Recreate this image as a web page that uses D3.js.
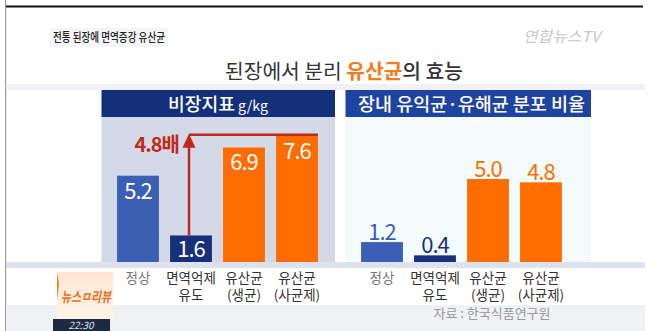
<!DOCTYPE html>
<html>
<head>
<meta charset="utf-8">
<script src="https://cdn.jsdelivr.net/npm/d3@7"></script>
<style>
  body { margin: 0; background: #fff; }
  svg { display: block; font-family: "Noto Sans CJK KR", "Noto Sans", sans-serif; }
</style>
</head>
<body>
<div class="chart"></div>
<script>
// categories (two-line labels) and values for the two panels
const categories = ['정상', '면역억제\n유도', '유산균\n(생균)', '유산균\n(사균제)'];
const spleenValues = [5.2, 1.6, 6.9, 7.6];   // 비장지표 g/kg
const gutValues = [1.2, 0.4, 5.0, 4.8];      // 장내 유익균·유해균 분포 비율
const ratioLabel = '4.8배';

const width = 657, height = 331;
const baseY = 262;
const barColors = ['#3a5fb4', '#17307a', '#ff6c00', '#ff6c00'];

const svg = d3.select('.chart')
    .append('svg')
    .attr('width', width)
    .attr('height', height);

// frame lines and grey bands
svg.append('rect').attr('x', 5).attr('y', 0).attr('width', 1.2).attr('height', height).attr('fill', '#9a9a9a');
svg.append('rect').attr('x', 6).attr('y', 5.5).attr('width', 637).attr('height', 2).attr('fill', '#111');
svg.append('rect').attr('x', 6).attr('y', 84).attr('width', 639).attr('height', 6).attr('fill', '#f0f2f6');
svg.append('rect').attr('x', 6).attr('y', baseY).attr('width', 639).attr('height', 6).attr('fill', '#dfe2ec');
svg.append('rect').attr('x', 6).attr('y', 305).attr('width', 639).attr('height', 26).attr('fill', '#eff1f5');

// small caption box top-left
svg.append('rect').attr('x', 50).attr('y', 28).attr('width', 118).attr('height', 19).attr('fill', '#f5f5f5');
svg.append('text')
    .attr('x', 53).attr('y', 42)
    .attr('font-size', 12).attr('font-weight', 500).attr('fill', '#222')
    .attr('textLength', 112).attr('lengthAdjust', 'spacingAndGlyphs')
    .text('전통 된장에 면역증강 유산균');

// channel logo
svg.append('text')
    .attr('x', 523).attr('y', 42)
    .attr('font-size', 15).attr('font-style', 'italic').attr('fill', '#c8c8c8')
    .attr('textLength', 77).attr('lengthAdjust', 'spacingAndGlyphs')
    .text('연합뉴스TV');

// main title
const title = svg.append('text')
    .attr('x', 225).attr('y', 79)
    .attr('font-size', 20).attr('fill', '#333')
    .attr('textLength', 238).attr('lengthAdjust', 'spacingAndGlyphs');
title.append('tspan').text('된장에서 분리 ');
title.append('tspan').attr('fill', '#f47a1c').attr('font-weight', 'bold').text('유산균');
title.append('tspan').attr('font-weight', 500).text('의 효능');

const y = d3.scaleLinear().domain([0, 8]).range([baseY, baseY - 8 * 16.6]);

function drawPanel(p) {
    const g = svg.append('g');
    g.append('rect').attr('x', p.x0).attr('y', 117).attr('width', p.x1 - p.x0).attr('height', baseY - 117).attr('fill', p.bg);
    g.append('rect').attr('x', p.x0).attr('y', 90).attr('width', p.x1 - p.x0).attr('height', 27).attr('fill', p.headColor);

    const head = g.append('text')
        .attr('x', p.headX).attr('y', 111)
        .attr('fill', '#fff').attr('font-size', 18).attr('font-weight', 500)
        .attr('textLength', p.headLen).attr('lengthAdjust', 'spacingAndGlyphs');
    head.append('tspan').text(p.title);
    if (p.unit) head.append('tspan').attr('font-size', 14).attr('font-weight', 400).text(' ' + p.unit);

    const x = d3.scaleBand()
        .domain(categories)
        .range(p.band)
        .paddingInner(0.21)
        .paddingOuter(0.105);

    g.selectAll('.bar')
        .data(p.values)
        .enter()
        .append('rect')
        .attr('x', (d, i) => x(categories[i]))
        .attr('y', d => y(d))
        .attr('width', x.bandwidth())
        .attr('height', d => baseY - y(d))
        .attr('fill', (d, i) => barColors[i]);

    g.selectAll('.val')
        .data(p.values)
        .enter()
        .append('text')
        .attr('x', (d, i) => x(categories[i]) + x.bandwidth() / 2)
        .attr('y', d => p.inside ? Math.min(y(d) + 23, baseY - 5) : y(d) - 2)
        .attr('text-anchor', 'middle')
        .attr('font-size', 22)
        .attr('letter-spacing', -1)
        .attr('fill', (d, i) => p.inside ? '#fff' : barColors[i])
        .text(d => d.toFixed(1));

    // two-line category labels, one text per line
    categories.forEach((d, i) => {
        const cx = x(d) + x.bandwidth() / 2;
        d.split('\n').forEach((line, k) => {
            g.append('text')
                .attr('x', cx)
                .attr('y', 283 + k * 16.5)
                .attr('text-anchor', 'middle')
                .attr('font-size', 13.5)
                .attr('fill', i === 0 ? '#777' : '#333')
                .text(line);
        });
    });
    return x;
}

const xLeft = drawPanel({
    x0: 101.5, x1: 335, bg: '#d3d9e6', headColor: '#15307a',
    title: '비장지표', unit: 'g/kg', headX: 168, headLen: 100,
    band: [111.5, 323.5], values: spleenValues, inside: true
});

drawPanel({
    x0: 345.5, x1: 591, bg: '#f4fbfd', headColor: '#1f449f',
    title: '장내 유익균·유해균 분포 비율', headX: 358, headLen: 227,
    band: [355.5, 567.5], values: gutValues, inside: false
});

// ratio arrow: from the 면역억제 bar up to the level of the 사균제 bar
const red = '#c0281c';
const arrowX = 189;
const topY = y(spleenValues[3]) - 1;
svg.append('line')
    .attr('x1', arrowX).attr('x2', arrowX)
    .attr('y1', y(spleenValues[1])).attr('y2', topY + 10)
    .attr('stroke', red).attr('stroke-width', 2.5);
svg.append('line')
    .attr('x1', arrowX).attr('x2', xLeft(categories[3]) + xLeft.bandwidth())
    .attr('y1', topY).attr('y2', topY)
    .attr('stroke', red).attr('stroke-width', 2.5);
svg.append('path')
    .attr('d', `M${arrowX},${topY - 1} L${arrowX - 6.5},${topY + 13} L${arrowX + 6.5},${topY + 13} Z`)
    .attr('fill', red);
svg.append('text')
    .attr('x', 179).attr('y', topY + 17)
    .attr('text-anchor', 'end')
    .attr('font-size', 20).attr('font-weight', 'bold')
    .attr('letter-spacing', -1)
    .attr('fill', red)
    .text(ratioLabel);

// source note
svg.append('text')
    .attr('x', 492).attr('y', 318)
    .attr('text-anchor', 'middle')
    .attr('font-size', 13).attr('fill', '#999')
    .text('자료 : 한국식품연구원');

// programme badge bottom-left
const defs = svg.append('defs');
const grad = defs.append('linearGradient').attr('id', 'badge').attr('x1', 0).attr('y1', 0).attr('x2', 0).attr('y2', 1);
grad.append('stop').attr('offset', '0%').attr('stop-color', '#fde6d0');
grad.append('stop').attr('offset', '100%').attr('stop-color', '#fff4ea');
svg.append('rect').attr('x', 57).attr('y', 272).attr('width', 56).attr('height', 47).attr('fill', 'url(#badge)');
svg.append('path').attr('d', 'M57,272 L59,284 L57,300 Z').attr('fill', '#f07a2a');
svg.append('text')
    .attr('x', 61).attr('y', 302)
    .attr('font-size', 14).attr('font-weight', 'bold').attr('font-style', 'italic')
    .attr('fill', '#f06a1a')
    .attr('textLength', 50).attr('lengthAdjust', 'spacingAndGlyphs')
    .text('뉴스ㅁ리뷰');
svg.append('rect').attr('x', 53).attr('y', 319).attr('width', 57).attr('height', 12).attr('fill', '#1e2942');
svg.append('text')
    .attr('x', 81).attr('y', 328.5)
    .attr('text-anchor', 'middle')
    .attr('font-size', 10).attr('font-style', 'italic').attr('fill', '#dfe4ee')
    .text('22:30');
</script>
</body>
</html>
